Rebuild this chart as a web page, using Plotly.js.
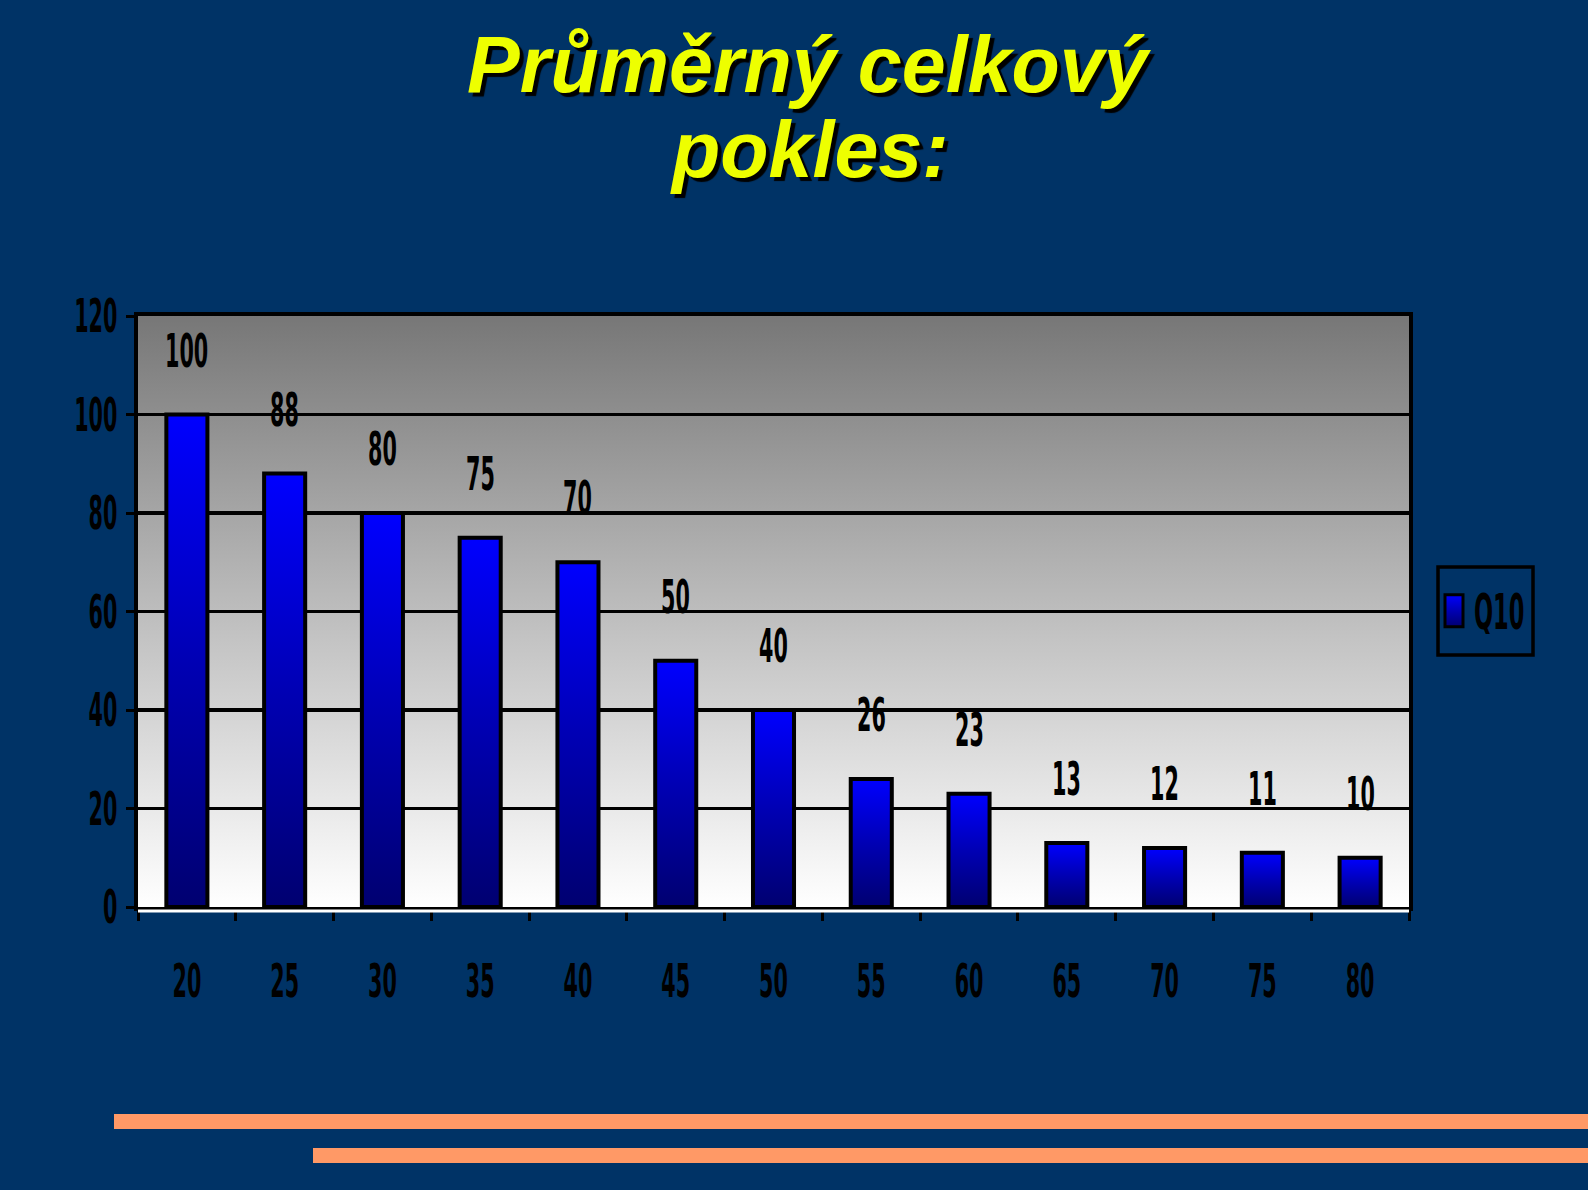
<!DOCTYPE html>
<html>
<head>
<meta charset="utf-8">
<script src="https://cdn.plot.ly/plotly-3.0.1.min.js"></script>
<style>
  html, body { margin: 0; padding: 0; background: #003366; }
  #chart { width: 1588px; height: 1190px; }
</style>
</head>
<body>
<div id="chart"></div>
<script>
// Age groups and average total decline (Q10)
const ages = ['20', '25', '30', '35', '40', '45', '50', '55', '60', '65', '70', '75', '80'];
const q10 = [100, 88, 80, 75, 70, 50, 40, 26, 23, 13, 12, 11, 10];
const seriesName = 'Q10';
const yTicks = [0, 20, 40, 60, 80, 100, 120];
const titleLines = ['Průměrný celkový', 'pokles:'];

const W = 1588, H = 1190;
const M = { l: 138, r: 179, t: 316, b: 283 };
const PW = W - M.l - M.r, PH = H - M.t - M.b;
const px = x => (x - M.l) / PW;
const py = y => (H - M.b - y) / PH;

const narrow = 'Liberation Sans Narrow, Arial Narrow, DejaVu Sans Condensed, sans-serif';
const labelFont = { family: narrow, size: 23, color: '#000000', weight: 'bold' };
const legendFont = { family: narrow, size: 25, color: '#000000', weight: 'bold' };
const titleFont = { family: 'Liberation Sans, Arial, sans-serif', size: 79, color: '#eeff00',
                    weight: 'bold', style: 'italic', shadow: '4px 4px 1px #000000' };

const data = [{
  type: 'bar',
  x: ages,
  y: q10,
  name: seriesName,
  marker: { color: '#0000cc', line: { color: '#000000', width: 4 } },
  showlegend: true,
  hoverinfo: 'skip'
}];

// value labels above each bar (x given as category index)
const annotations = ages.map((a, i) => ({
  x: i, y: q10[i], xref: 'x', yref: 'y',
  text: String(q10[i]), showarrow: false,
  yanchor: 'middle', xanchor: 'center', yshift: 64,
  font: labelFont
}));

// two-line heading
[64, 150].forEach((cy, i) => annotations.push({
  x: px(809), y: py(cy), xref: 'paper', yref: 'paper',
  text: titleLines[i], showarrow: false,
  xanchor: 'center', yanchor: 'middle',
  font: titleFont
}));

const shapes = [
  // white floor edge under the axis
  { type: 'line', xref: 'paper', yref: 'paper', x0: 0, x1: 1, y0: py(911), y1: py(911),
    line: { color: '#ffffff', width: 3 } },
  // legend frame
  { type: 'rect', xref: 'paper', yref: 'paper', x0: px(1438), x1: px(1533), y0: py(567), y1: py(655),
    line: { color: '#000000', width: 3.5 }, fillcolor: 'rgba(0,0,0,0)' },
  // decorative orange rules
  { type: 'rect', xref: 'paper', yref: 'paper', x0: px(114), x1: px(1600), y0: py(1114), y1: py(1129),
    line: { width: 0 }, fillcolor: '#ff9966' },
  { type: 'rect', xref: 'paper', yref: 'paper', x0: px(313), x1: px(1600), y0: py(1148), y1: py(1163),
    line: { width: 0 }, fillcolor: '#ff9966' }
];

const layout = {
  width: W, height: H,
  margin: M,
  paper_bgcolor: '#003366',
  plot_bgcolor: '#bbbbbb',
  bargap: 0.58,
  xaxis: {
    type: 'category',
    showline: true, linecolor: '#000000', linewidth: 4, mirror: true,
    ticks: 'outside', tickson: 'boundaries', ticklen: 10, tickwidth: 3, tickcolor: '#000000',
    ticklabelstandoff: 50, tickangle: 0,
    tickfont: labelFont,
    showgrid: false, zeroline: false
  },
  yaxis: {
    range: [0, 120], tickvals: yTicks,
    showline: true, linecolor: '#000000', linewidth: 4, mirror: true,
    ticks: 'outside', ticklen: 8, tickwidth: 3, tickcolor: '#000000',
    ticklabelstandoff: 4,
    tickfont: labelFont,
    showgrid: true, gridcolor: '#000000', gridwidth: 3.5,
    zeroline: false
  },
  showlegend: true,
  legend: {
    x: px(1434), y: py(611), xanchor: 'left', yanchor: 'middle',
    bgcolor: 'rgba(0,0,0,0)', borderwidth: 0,
    font: legendFont, itemwidth: 30
  },
  annotations: annotations,
  shapes: shapes
};

const gd = document.getElementById('chart');
Plotly.newPlot(gd, data, layout, { staticPlot: true }).then(() => {
  const NS = 'http://www.w3.org/2000/svg';
  const svg = gd.querySelector('svg.main-svg');
  let defs = svg.querySelector('defs');
  if (!defs) { defs = document.createElementNS(NS, 'defs'); svg.insertBefore(defs, svg.firstChild); }
  function grad(id, stops) {
    const g = document.createElementNS(NS, 'linearGradient');
    g.setAttribute('id', id);
    g.setAttribute('x1', '0'); g.setAttribute('y1', '0');
    g.setAttribute('x2', '0'); g.setAttribute('y2', '1');
    stops.forEach(([o, c]) => {
      const s = document.createElementNS(NS, 'stop');
      s.setAttribute('offset', o); s.setAttribute('stop-color', c);
      g.appendChild(s);
    });
    defs.appendChild(g);
  }
  grad('barFill', [['0', '#0000ff'], ['0.5', '#0000b4'], ['1', '#000070']]);
  grad('plotFill', [['0', '#777777'], ['0.55', '#c4c4c4'], ['1', '#ffffff']]);

  gd.querySelectorAll('.barlayer .point path').forEach(p => { p.style.fill = 'url(#barFill)'; });
  gd.querySelectorAll('.legendpoints path').forEach(p => {
    p.style.fill = 'url(#barFill)';
    p.style.strokeWidth = '3px';
    p.setAttribute('d', 'M9,-16H-9V16H9Z');
  });
  const bg = gd.querySelector('.bglayer rect.bg');
  if (bg) bg.style.fill = 'url(#plotFill)';

  // tall condensed lettering for numbers
  const sel = '.xtick text, .ytick text, .annotation-text, .legendtext';
  gd.querySelectorAll(sel).forEach(t => {
    if (t.textContent.length > 4 && !/^\d+$/.test(t.textContent)) return;
    const b = t.getBBox();
    const cx = b.x + b.width / 2, cy = b.y + b.height / 2;
    const prev = t.getAttribute('transform') || '';
    t.setAttribute('transform',
      prev + ` translate(${cx},${cy}) scale(1,2) translate(${-cx},${-cy})`);
  });
});
</script>
</body>
</html>
